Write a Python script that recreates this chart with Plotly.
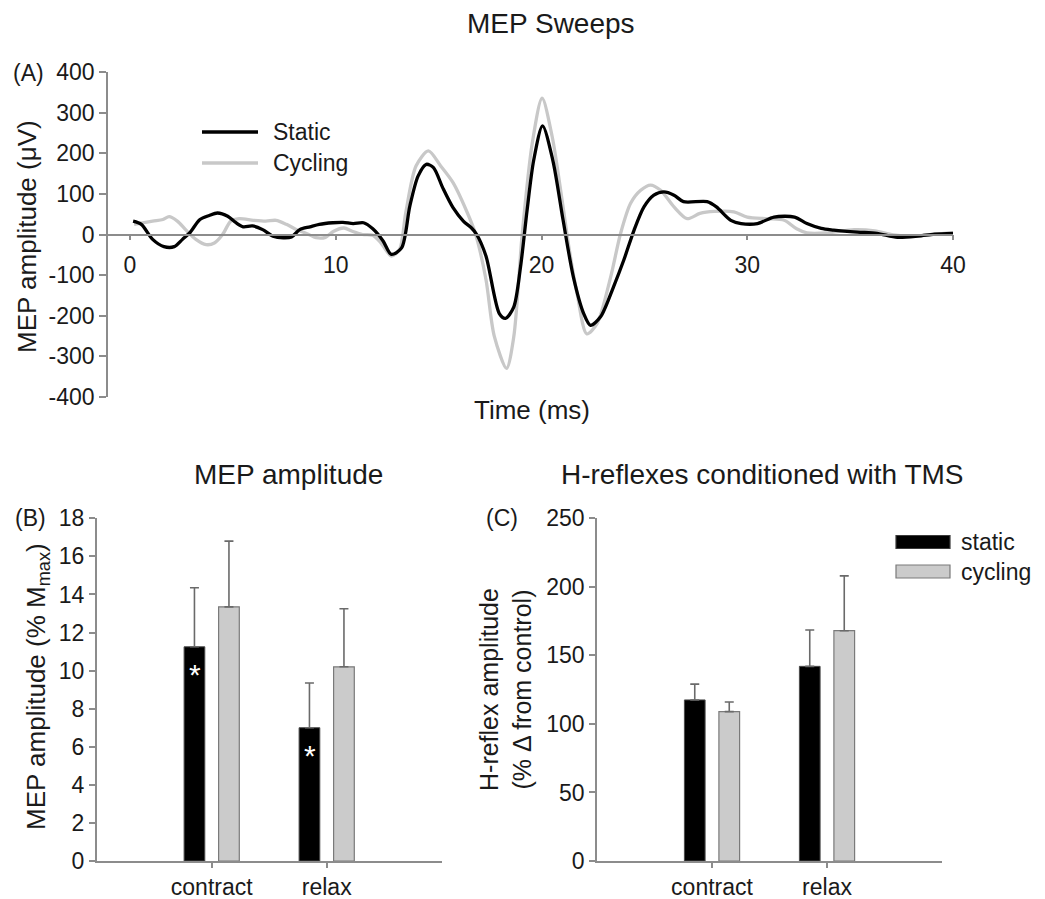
import plotly.graph_objects as go

# ---------------- data ----------------
# (A) averaged MEP sweeps, time in ms, amplitude in microvolts
static_t = [0.15, 0.55, 1.1, 1.65, 2.15, 2.55, 2.9, 3.4, 3.85, 4.25, 4.75, 5.15, 5.5, 5.95,
            6.45, 6.95, 7.45, 7.85, 8.25, 8.75, 9.2, 9.85, 10.35, 10.85, 11.35, 11.8, 12.3,
            12.7, 13.2, 13.6, 14.0, 14.4, 14.75, 15.2, 15.7, 16.2, 16.6, 16.85, 17.3, 17.95,
            18.25, 18.65, 18.98, 19.3, 19.62, 20.05, 20.55, 21.05, 21.55, 22.05, 22.38, 22.87,
            23.5, 24.0, 24.5, 24.98, 25.46, 25.95, 26.44, 26.9, 28.05, 28.5, 29.2, 29.7, 30.5,
            31.3, 32.3, 32.9, 33.6, 34.2, 35.35, 36.3, 37.3, 38.3, 39.1, 40.0]
static_v = [33, 25, -12, -30, -30, -12, 4, 37, 47, 53, 45, 29, 19, 21,
            12, -4, -8, -6, 12, 19, 25, 29, 30, 27, 29, 14, -16,
            -49, -33, 70, 144, 173, 165, 115, 66, 33, 16, 0, -53, -195,
            -207, -179, -80, 60, 183, 268, 183, 35, -105, -195, -224, -203,
            -129, -63, 11, 68, 97, 105, 97, 81, 81, 68, 35, 27, 27,
            43, 43, 27, 15, 11, 6, 3, -7, -4, 1, 3]

cycling_t = [0.2, 1.1, 1.6, 1.9, 2.3, 2.7, 3.2, 3.7, 4.1, 4.5, 4.9, 5.3, 6.0, 6.6, 7.1,
             7.6, 8.1, 8.6, 9.05, 9.5, 9.9, 10.4, 10.8, 11.3, 11.8, 12.2, 12.7, 13.1, 13.4,
             13.9, 14.5, 15.1, 15.7, 16.4, 16.8, 17.3, 17.7, 18.3, 18.65, 19.06, 19.55, 20.03,
             20.52, 21.0, 21.33, 21.73, 22.2, 22.7, 23.36, 23.84, 24.33, 24.82, 25.3, 25.79,
             26.44, 27.08, 27.7, 28.4, 29.35, 30.0, 31.0, 31.8, 32.4, 32.9, 33.9, 35.2, 36.2,
             37.1, 38.1, 39.1, 40.0]
cycling_v = [25, 33, 37, 44, 33, 12, -12, -25, -21, 0, 33, 39, 35, 33, 35,
             25, 12, 2, -8, -7, 8, 16, 8, 0, -2, -21, -53, -37, 53,
             169, 206, 169, 128, 53, 0, -111, -250, -330, -253, 0, 225, 336,
             241, 85, -31, -146, -245, -220, -105, 2, 77, 109, 122, 109,
             68, 39, 52, 57, 56, 43, 39, 35, 14, 4, 4, 12, 9,
             -1, -4, 1, 4]

time_ticks = [0, 10, 20, 30, 40]
amp_ticks = [400, 300, 200, 100, 0, -100, -200, -300, -400]

# (B) and (C) group means with upward SE bars
conditions = ["contract", "relax"]
mep_static = [11.25, 7.0]
mep_static_err = [3.1, 2.35]
mep_cycling = [13.35, 10.2]
mep_cycling_err = [3.45, 3.05]

h_static = [117.5, 142.0]
h_static_err = [11.5, 26.5]
h_cycling = [109.0, 168.0]
h_cycling_err = [7.0, 40.0]

# ---------------- styling ----------------
W, H = 1045, 899
FONT = "Liberation Sans, Arial, Helvetica, sans-serif"
INK = "#1a1a1a"
AXIS = "#8c8c8c"
BLACK = "#000000"
GREY_LINE = "#c8c8c8"
GREY_BAR = "#cbcbcb"
GREY_EDGE = "#7a7a7a"
ERR = "#6a6a6a"
TICK_SIZE = 23


def fx(p):
    return p / W


def fy(p):
    return 1 - p / H


fig = go.Figure()

# ---- (A) sweeps (cycling first so the static trace sits on top) ----
fig.add_trace(go.Scatter(x=cycling_t, y=cycling_v, mode="lines", name="Cycling",
                         line=dict(color=GREY_LINE, width=3.3, shape="spline", smoothing=0.8),
                         xaxis="x", yaxis="y"))
fig.add_trace(go.Scatter(x=static_t, y=static_v, mode="lines", name="Static",
                         line=dict(color=BLACK, width=3.3, shape="spline", smoothing=0.8),
                         xaxis="x", yaxis="y"))


def bar_pair(s, s_err, c, c_err, xa, ya):
    zeros = [0] * len(conditions)
    fig.add_trace(go.Bar(x=conditions, y=s, name="static", offsetgroup="s",
                         marker=dict(color=BLACK, line=dict(color="#4a4a4a", width=1)),
                         error_y=dict(type="data", array=s_err, arrayminus=zeros,
                                      symmetric=False, color=ERR, thickness=1.6, width=4.5),
                         xaxis=xa, yaxis=ya))
    fig.add_trace(go.Bar(x=conditions, y=c, name="cycling", offsetgroup="c",
                         marker=dict(color=GREY_BAR, line=dict(color=GREY_EDGE, width=1.2)),
                         error_y=dict(type="data", array=c_err, arrayminus=zeros,
                                      symmetric=False, color=ERR, thickness=1.6, width=4.5),
                         xaxis=xa, yaxis=ya))


bar_pair(mep_static, mep_static_err, mep_cycling, mep_cycling_err, "x2", "y2")
bar_pair(h_static, h_static_err, h_cycling, h_cycling_err, "x3", "y3")

axis_common = dict(showgrid=False, zeroline=False, showline=True, linecolor=AXIS,
                   linewidth=1.5, ticks="outside", tickcolor=AXIS, tickwidth=1.5,
                   automargin=False,
                   tickfont=dict(family=FONT, size=TICK_SIZE, color=INK))

ya_dom = [fy(396.7), fy(72.3)]
yb_dom = [fy(861), fy(518.3)]

fig.update_layout(
    width=W, height=H, margin=dict(l=0, r=0, t=0, b=0),
    paper_bgcolor="white", plot_bgcolor="white", showlegend=False,
    barmode="group", bargap=0.4, bargroupgap=0.4,
    font=dict(family=FONT, color=INK),
    # (A): time axis drawn along the zero line
    xaxis=dict(domain=[fx(108), fx(953)], range=[-1.07, 40.0], anchor="free",
               position=(ya_dom[0] + ya_dom[1]) / 2, tickvals=time_ticks,
               ticklen=5, ticklabelstandoff=5, **axis_common),
    yaxis=dict(domain=ya_dom, range=[-400, 400], tickvals=amp_ticks,
               ticktext=[str(v) for v in amp_ticks], anchor="x", ticklen=7,
               **axis_common),
    # (B)
    xaxis2=dict(domain=[fx(96.7), fx(441.7)], range=[-1, 2], type="category",
                categoryorder="array", categoryarray=conditions, anchor="y2",
                ticklen=5, **axis_common),
    yaxis2=dict(domain=yb_dom, range=[0, 18], dtick=2, anchor="x2", ticklen=6,
                **axis_common),
    # (C)
    xaxis3=dict(domain=[fx(597), fx(942)], range=[-1, 2], type="category",
                categoryorder="array", categoryarray=conditions, anchor="y3",
                ticklen=5, **axis_common),
    yaxis3=dict(domain=yb_dom, range=[0, 250], dtick=50, anchor="x3", ticklen=6,
                **axis_common),
)


def label(text, x, y, size, angle=0, xanchor="center"):
    fig.add_annotation(text=text, x=fx(x), y=fy(y), xref="paper", yref="paper",
                       showarrow=False, xanchor=xanchor, yanchor="middle",
                       textangle=angle, font=dict(family=FONT, size=size, color=INK))


# titles and panel letters
label("MEP Sweeps", 551, 23, 28)
label("(A)", 28, 73, 23)
label("MEP amplitude (\u03bcV)", 27, 237, 26, angle=-90)
label("Time (ms)", 532, 410, 26)
label("MEP amplitude", 288, 474, 28)
label("(B)", 30, 518, 23)
label("MEP amplitude (% M<sub>max</sub>)", 37, 687, 26, angle=-90)
label("H-reflexes conditioned with TMS", 762, 474, 28)
label("(C)", 502, 518, 23)
label("H-reflex amplitude<br>(% \u0394 from control)", 505, 690, 25, angle=-90)

# (A) legend
for (name, color, yy) in [("Static", BLACK, 132), ("Cycling", GREY_LINE, 163)]:
    fig.add_shape(type="line", xref="paper", yref="paper", x0=fx(202), x1=fx(258),
                  y0=fy(yy), y1=fy(yy), line=dict(color=color, width=3.5))
    label(name, 271, yy, 23, xanchor="left")

# (C) legend
for (name, fill, edge, yy) in [("static", BLACK, "#3a3a3a", 542),
                               ("cycling", GREY_BAR, GREY_EDGE, 571.5)]:
    fig.add_shape(type="rect", xref="paper", yref="paper", x0=fx(896), x1=fx(950),
                  y0=fy(yy - 6.5), y1=fy(yy + 6.5), fillcolor=fill,
                  line=dict(color=edge, width=1.2))
    label(name, 959, yy, 23, xanchor="left")

# significance markers inside the static MEP bars
for cond, val in zip(conditions, mep_static):
    fig.add_annotation(text="*", x=cond, y=val, xref="x2", yref="y2", showarrow=False,
                       xshift=-17, yshift=-28, font=dict(family=FONT, size=30, color="white"))

fig.write_html("out.html")
